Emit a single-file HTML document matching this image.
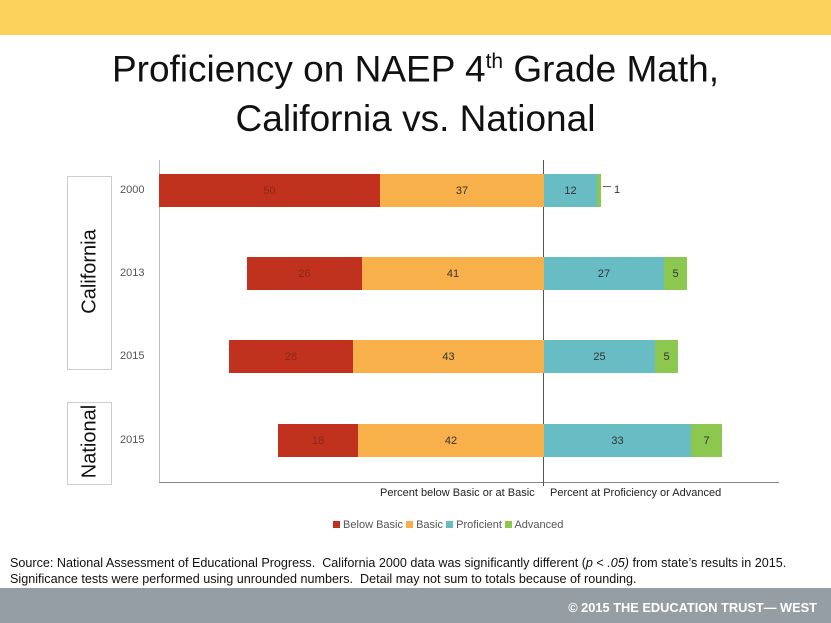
<!DOCTYPE html><html><head><meta charset="utf-8"><style>
body{margin:0;width:831px;height:623px;position:relative;background:#fff;font-family:"Liberation Sans",sans-serif;overflow:hidden}
div{position:absolute}
.b{height:33px;font-size:11px;color:#333;display:flex;align-items:center;justify-content:center}
.r{background:#c0311e;color:#8a2a1a}.o{background:#f7b04a}.t{background:#68bcc4}.g{background:#8cc850}
.y{font-size:11px;color:#555;left:120px}
.box{left:67px;width:43px;border:1px solid #ccc}
.vt{transform:rotate(-90deg);white-space:nowrap;font-size:20px;color:#111}
</style></head><body>
<div style="left:0;top:0;width:831px;height:35px;background:#fdd25c"></div>
<div style="left:0;top:37px;width:831px;text-align:center;font-size:37px;color:#111;line-height:50px">Proficiency on NAEP 4<sup style="font-size:21px">th</sup> Grade Math,<br>California vs. National</div>
<div style="left:159px;top:160px;width:1px;height:322px;background:#bbb"></div>
<div style="left:159px;top:482px;width:620px;height:1px;background:#888"></div>
<div style="left:543px;top:160px;width:1px;height:326px;background:#555"></div>
<div class="box" style="top:176px;height:192px"></div>
<div class="box" style="top:402px;height:81px"></div>
<div class="vt" style="left:40px;top:260px;width:100px;text-align:center">California</div>
<div class="vt" style="left:40px;top:430px;width:100px;text-align:center">National</div>
<div class="y" style="top:184px">2000</div><div class="y" style="top:267px">2013</div><div class="y" style="top:350px">2015</div><div class="y" style="top:434px">2015</div>
<div class="b r" style="left:159px;top:174px;width:221px">50</div><div class="b o" style="left:380px;top:174px;width:164px">37</div><div class="b t" style="left:544px;top:174px;width:53px">12</div><div class="b g" style="left:597px;top:174px;width:4px"></div>
<div style="left:603px;top:186px;width:8px;height:1px;background:#666"></div><div style="left:614px;top:184px;font-size:11px;color:#333">1</div>
<div class="b r" style="left:247px;top:257px;width:115px">26</div><div class="b o" style="left:362px;top:257px;width:182px">41</div><div class="b t" style="left:544px;top:257px;width:120px">27</div><div class="b g" style="left:664px;top:257px;width:23px">5</div>
<div class="b r" style="left:229px;top:340px;width:124px">28</div><div class="b o" style="left:353px;top:340px;width:191px">43</div><div class="b t" style="left:544px;top:340px;width:111px">25</div><div class="b g" style="left:655px;top:340px;width:23px">5</div>
<div class="b r" style="left:278px;top:424px;width:80px">18</div><div class="b o" style="left:358px;top:424px;width:186px">42</div><div class="b t" style="left:544px;top:424px;width:147px">33</div><div class="b g" style="left:691px;top:424px;width:31px">7</div>
<div style="left:380px;top:487px;font-size:11px;color:#222">Percent below Basic or at Basic</div>
<div style="left:550px;top:487px;font-size:11px;color:#222">Percent at Proficiency or Advanced</div>
<div style="left:333px;top:519px;font-size:11px;color:#555;white-space:nowrap"><span style="display:inline-block;width:7px;height:7px;background:#c0311e"></span> Below Basic <span style="display:inline-block;width:7px;height:7px;background:#f7b04a"></span> Basic <span style="display:inline-block;width:7px;height:7px;background:#68bcc4"></span> Proficient <span style="display:inline-block;width:7px;height:7px;background:#8cc850"></span> Advanced</div>
<div style="left:10px;top:555px;font-size:12.6px;color:#111;line-height:16px;white-space:nowrap">Source: National Assessment of Educational Progress.&nbsp; California 2000 data was significantly different (<i>p</i> &lt; <i>.05)</i> from state’s results in 2015.<br>Significance tests were performed using unrounded numbers.&nbsp; Detail may not sum to totals because of rounding.</div>
<div style="left:0;top:588px;width:831px;height:35px;background:#959ea4"></div>
<div style="right:14px;top:600px;font-size:12.8px;font-weight:bold;color:#fff">© 2015 THE EDUCATION TRUST— WEST</div>
</body></html>
